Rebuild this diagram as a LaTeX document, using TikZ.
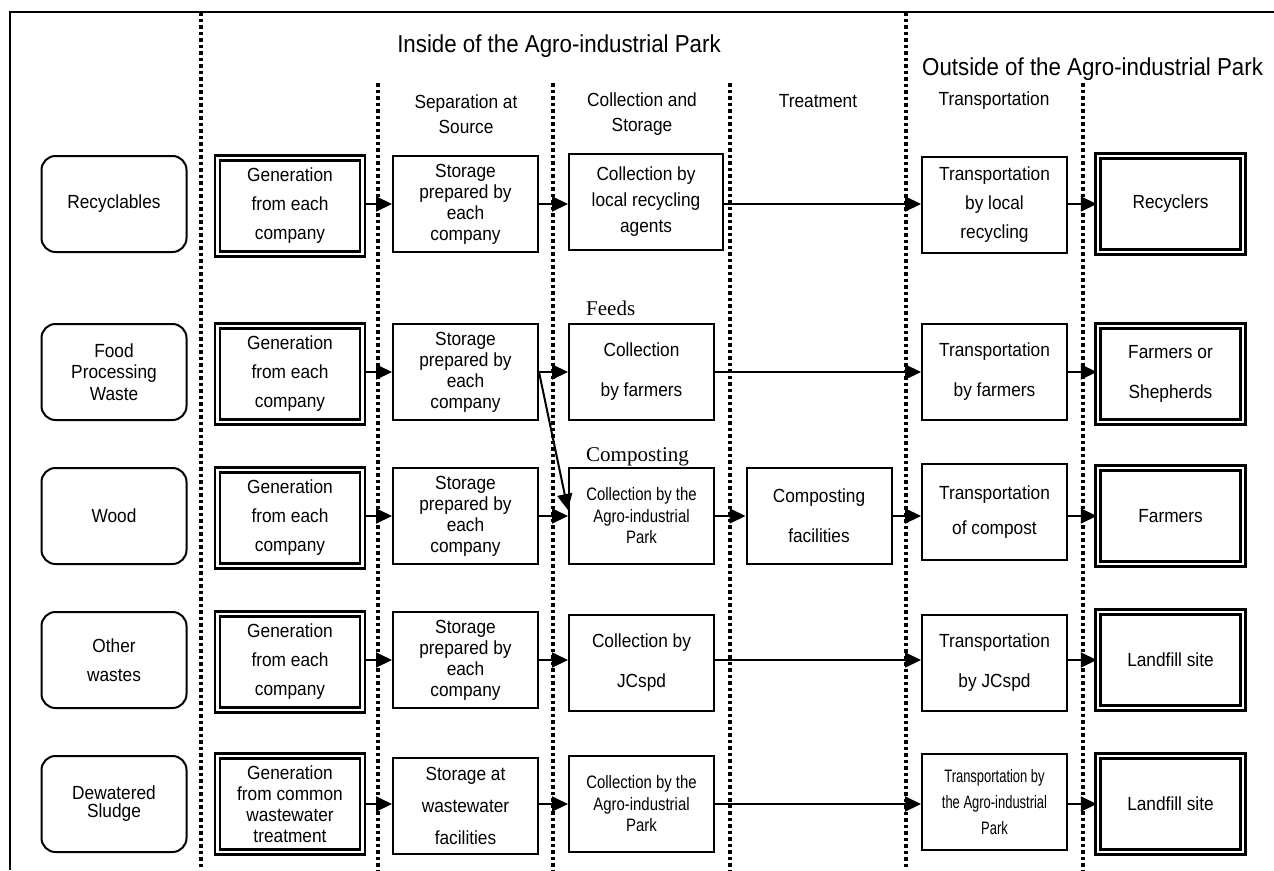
\documentclass[tikz,border=0pt]{standalone}
\usepackage{fontspec}
\setmainfont{Liberation Sans}
\newfontfamily\bodyfont[FakeStretch=0.91]{Liberation Sans}
\newfontfamily\narrowfont[FakeStretch=0.83]{Liberation Sans}
\newfontfamily\tightfont[FakeStretch=0.72]{Liberation Sans}
\newfontfamily\labelfont{Liberation Serif}
\usetikzlibrary{arrows.meta}
\def\boxw{145}
\def\boxh{96}

\begin{document}
\begin{tikzpicture}[
    x=1pt,y=-1pt,
    txt/.style={align=center,inner sep=0pt,font=\bodyfont\fontsize{19}{#1}\selectfont},
    txt/.default=21,
    narrow/.style={font=\narrowfont\fontsize{18}{#1}\selectfont},
    tight/.style={font=\tightfont\fontsize{18}{#1}\selectfont},
    stage/.style={draw,line width=2pt,minimum width=\boxw,minimum height=\boxh,txt=#1},
    stage/.default=21,
    source/.style={stage=#1,rounded corners=14pt},
    source/.default=21,
    dblbox/.style={stage=#1,double,double distance=2.5pt,line width=2.5pt},
    dblbox/.default=21,
    flow/.style={-{Triangle[length=16pt,width=15pt]},line width=2pt},
    divider/.style={line width=3.5pt,dash pattern=on 3.5pt off 3pt},
    head/.style={txt=#1},
    head/.default=25,
    title/.style={inner sep=0pt,font=\bodyfont\fontsize{24.5}{28}\selectfont},
    note/.style={anchor=base west,inner sep=0pt,font=\labelfont\fontsize{21}{24}\selectfont}
  ]
  \useasboundingbox (0,0) rectangle (1274,870);

  \draw[line width=2pt] (10,870) -- (10,12) -- (1274,12);
  \foreach \x/\top in {201/12,378/83,553/83,730/83,906/12,1083/83}
    \draw[divider] (\x,\top) -- (\x,870);

  \node[title,anchor=base] (inside) at (559,52) {Inside of the Agro-industrial Park};
  \node[title,anchor=base west] (outside) at (922,75) {Outside of the Agro-industrial Park};
  \node[head] (hsep) at (466,114) {Separation at\\Source};
  \node[head] (hcoll) at (642,114) {Collection and\\Storage};
  \node[head] (htreat) at (818,101) {Treatment};
  \node[head] (htrans) at (994,101) {Transportation};

  \node[source=21.5] (cat1) at (114,204) {Recyclables};
  \node[source=21.5] (cat2) at (114,372) {Food\\Processing\\Waste};
  \node[source] (cat3) at (114,516) {Wood};
  \node[source=29] (cat4) at (114,660) {Other\\wastes};
  \node[source=18] (cat5) at (114,804) {Dewatered\\Sludge};

  \node[dblbox=29] (gen1) at (290,206) {Generation\\from each\\company};
  \node[dblbox=29] (gen2) at (290,374) {Generation\\from each\\company};
  \node[dblbox=29] (gen3) at (290,518) {Generation\\from each\\company};
  \node[dblbox=29] (gen4) at (290,662) {Generation\\from each\\company};
  \node[dblbox=21] (gen5) at (290,804) {Generation\\from common\\wastewater\\treatment};

  \node[stage] (stor1) at (465.5,204) {Storage\\prepared by\\each\\company};
  \node[stage] (stor2) at (465.5,372) {Storage\\prepared by\\each\\company};
  \node[stage] (stor3) at (465.5,516) {Storage\\prepared by\\each\\company};
  \node[stage] (stor4) at (465.5,660) {Storage\\prepared by\\each\\company};
  \node[stage=32] (stor5) at (465.5,806) {Storage at\\wastewater\\facilities};

  \node[stage=26,minimum width=154] (coll1) at (646,202) {Collection by\\local recycling\\agents};
  \node[stage=40] (coll2) at (641.5,372) {Collection\\by farmers};
  \node[stage,narrow=21.5] (coll3) at (641.5,516) {Collection by the\\Agro-industrial\\Park};
  \node[stage=40] (coll4) at (641.5,663) {Collection by\\JCspd};
  \node[stage,narrow=21.5] (coll5) at (641.5,804) {Collection by the\\Agro-industrial\\Park};

  \node[note] (feeds) at (586,315) {Feeds};
  \node[note] (composting) at (586,461) {Composting};

  \node[stage=40] (comp3) at (819,516) {Composting\\facilities};

  \node[stage=29] (trans1) at (994.5,205) {Transportation\\by local\\recycling};
  \node[stage=40] (trans2) at (994.5,372) {Transportation\\by farmers};
  \node[stage=35] (trans3) at (994.5,512) {Transportation\\of compost};
  \node[stage=40] (trans4) at (994.5,663) {Transportation\\by JCspd};
  \node[stage,tight=26] (trans5) at (994.5,802) {Transportation by\\the Agro-industrial\\Park};

  \node[dblbox] (dest1) at (1170.5,204) {Recyclers};
  \node[dblbox=40] (dest2) at (1170.5,374) {Farmers or\\Shepherds};
  \node[dblbox] (dest3) at (1170.5,516) {Farmers};
  \node[dblbox] (dest4) at (1170.5,660) {Landfill site};
  \node[dblbox] (dest5) at (1170.5,804) {Landfill site};

  \draw[flow] (gen1.east |- cat1) -- (stor1.west |- cat1);
  \draw[flow] (gen2.east |- cat2) -- (stor2.west |- cat2);
  \draw[flow] (gen3.east |- cat3) -- (stor3.west |- cat3);
  \draw[flow] (gen4.east |- cat4) -- (stor4.west |- cat4);
  \draw[flow] (gen5.east |- cat5) -- (stor5.west |- cat5);

  \draw[flow] (stor1) -- (stor1 -| coll1.west);
  \draw[flow] (stor2) -- (stor2 -| coll2.west);
  \draw[flow] (stor3) -- (stor3 -| coll3.west);
  \draw[flow] (stor4) -- (stor4 -| coll4.west);
  \draw[flow] (stor5.east |- cat5) -- (coll5.west |- cat5);
  \draw[flow] (stor2.east) -- ([yshift=6pt]coll3.west);

  \draw[flow] (coll1.east |- cat1) -- (trans1.west |- cat1);
  \draw[flow] (coll2.east |- cat2) -- (trans2.west |- cat2);
  \draw[flow] (coll3) -- (comp3);
  \draw[flow] (comp3.east |- cat3) -- (trans3.west |- cat3);
  \draw[flow] (coll4.east |- cat4) -- (trans4.west |- cat4);
  \draw[flow] (coll5.east |- cat5) -- (trans5.west |- cat5);

  \draw[flow] (trans1.east |- cat1) -- (dest1.west |- cat1);
  \draw[flow] (trans2.east |- cat2) -- (dest2.west |- cat2);
  \draw[flow] (trans3.east |- cat3) -- (dest3.west |- cat3);
  \draw[flow] (trans4.east |- cat4) -- (dest4.west |- cat4);
  \draw[flow] (trans5.east |- cat5) -- (dest5.west |- cat5);

\end{tikzpicture}
\end{document}
